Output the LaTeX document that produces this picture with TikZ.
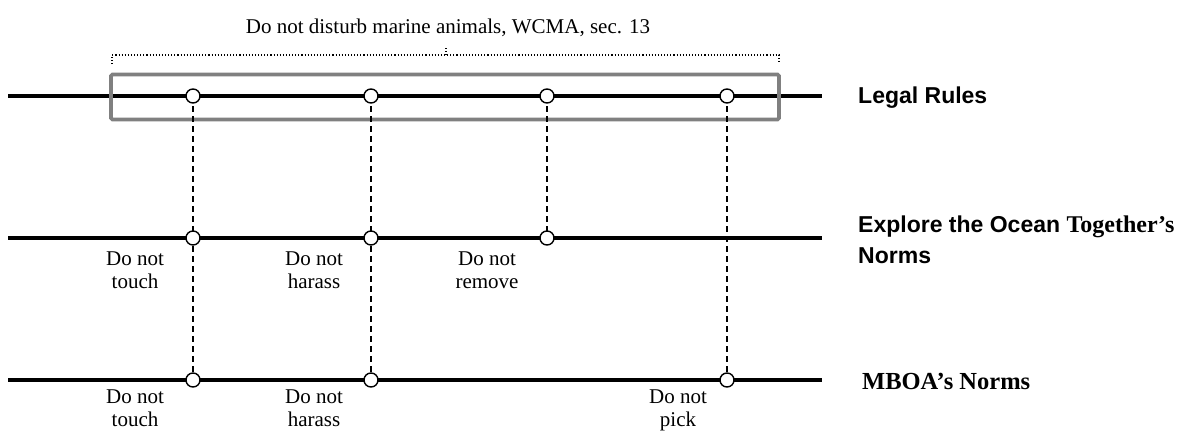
\documentclass[tikz,border=0pt]{standalone}
\usepackage{fontspec}
\setmainfont{Liberation Serif}
\setsansfont{Liberation Sans}
\begin{document}
\begin{tikzpicture}[x=1pt,y=-1pt,
  track/.style={line width=4.5pt,black},
  evt/.style={circle,draw=black,fill=white,line width=1.4pt,minimum size=14pt,inner sep=0pt},
  link/.style={line width=1.2pt,dash pattern=on 6pt off 4pt},
  lbl/.style={align=center,anchor=base,font=\fontsize{21}{23}\selectfont,inner sep=0pt},
  side/.style={anchor=base west,align=left,font=\fontsize{23}{31}\selectfont\sffamily\bfseries,inner sep=0pt},
  brace/.style={dotted,line width=1.1pt}
]
\useasboundingbox (0,0) rectangle (1195,431);
% tracks
\coordinate (l1) at (8,96);  \coordinate (r1) at (822,96);
\coordinate (l2) at (8,238); \coordinate (r2) at (822,238);
\coordinate (l3) at (8,380); \coordinate (r3) at (822,380);
\draw[track] (l1) -- (r1);
\draw[track] (l2) -- (r2);
\draw[track] (l3) -- (r3);
% gray box
\node[draw=black!50,line width=3.8pt,rounded corners=1.5pt,minimum width=668pt,minimum height=45pt,inner sep=0pt] (box) at (445,97) {};
% dotted brace
\coordinate (b1) at (112,64); \coordinate (b2) at (779,64); \coordinate (bc) at (446,47);
\draw[brace] (b1) -- (112,55) -- (779,55) -- (b2);
\draw[brace] (446,55) -- (bc);
\node[anchor=base,font=\fontsize{21}{23}\selectfont,inner sep=0pt] (top) at (448,33) {Do not disturb marine animals, WCMA, sec. 13};
% dashed links (drawn before circles)
\coordinate (a1) at (193,96); \coordinate (a2) at (371,96); \coordinate (a3) at (547,96); \coordinate (a4) at (727,96);
\coordinate (m1) at (193,238); \coordinate (m2) at (371,238); \coordinate (m3) at (547,238);
\coordinate (n1) at (193,380); \coordinate (n2) at (371,380); \coordinate (n4) at (727,380);
\draw[link] (a1) -- (n1);
\draw[link] (a2) -- (n2);
\draw[link] (a3) -- (m3);
\draw[link] (a4) -- (n4);
% circles
\foreach \p in {a1,a2,a3,a4,m1,m2,m3,n1,n2,n4} \node[evt] (c\p) at (\p) {};
% labels (anchor = baseline of the last line)
\node[lbl] (t1) at (135,288) {Do not\\touch};
\node[lbl] (t2) at (314,288) {Do not\\harass};
\node[lbl] (t3) at (487,288) {Do not\\remove};
\node[lbl] (u1) at (135,426) {Do not\\touch};
\node[lbl] (u2) at (314,426) {Do not\\harass};
\node[lbl] (u4) at (678,426) {Do not\\pick};
% side labels
\node[side] (s1) at (858,103) {Legal Rules};
\node[side] (s2) at (858,263) {Explore the Ocean {\rmfamily\fontsize{24}{31}\selectfont Together’s}\\Norms};
\node[anchor=base west,inner sep=0pt,font=\fontsize{24.5}{28}\selectfont\bfseries] (s3) at (862,389) {MBOA’s Norms};
\end{tikzpicture}
\end{document}
